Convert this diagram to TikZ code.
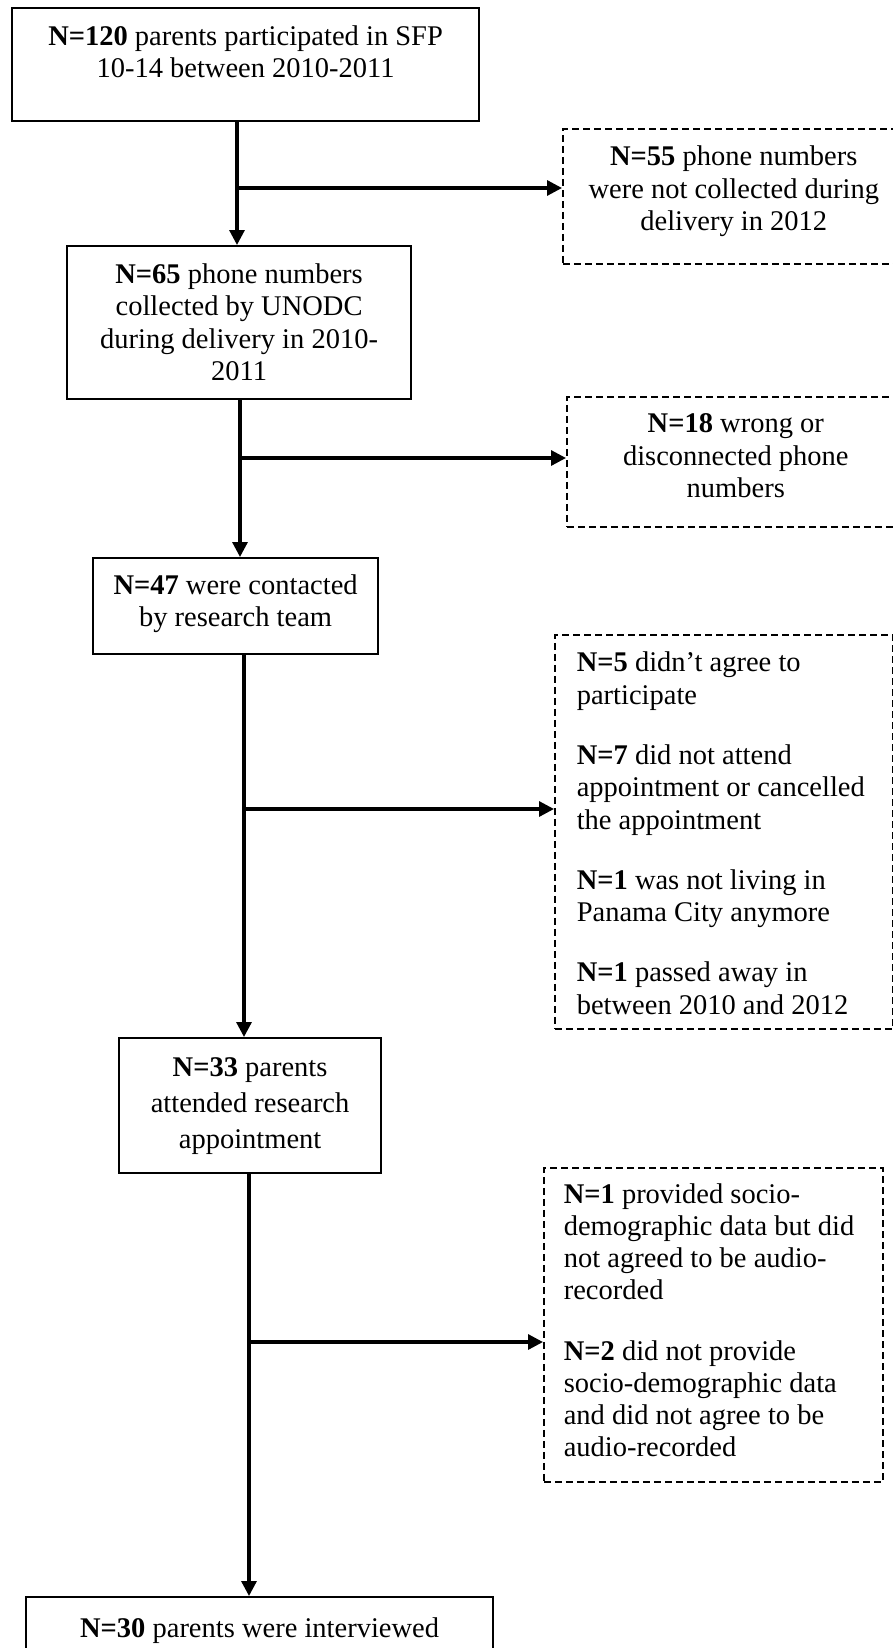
\documentclass[tikz,border=0pt]{standalone}
\usepackage{fontspec}
\setmainfont{Liberation Serif}
\usetikzlibrary{arrows.meta}
% centred text block: width, height, first-baseline offset, text
\newcommand\boxtxt[4]{\parbox[t][#2][t]{#1}{\centering\rule{0pt}{#3}#4}}
% left-aligned text block: width, height, first-baseline offset, left pad, text
\newcommand\listtxt[5]{\parbox[t][#2][t]{#1}{\raggedright\leftskip=#4\relax\rule{0pt}{#3}#5}}
\begin{document}
\begin{tikzpicture}[x=1pt,y=-1pt,
  txtfont/.style={font=\fontsize{28.5}{32.5}\selectfont},
  solidbox/.style={draw, line width=2.2pt, inner sep=0pt, anchor=north west, txtfont},
  dashbox/.style={draw, line width=1.6pt, dash pattern=on 7pt off 4pt, inner sep=0pt, anchor=north west, txtfont},
  conn/.style={line width=3.2pt},
  arr/.style={conn, -{Triangle[length=15pt,width=15pt]}}]
\useasboundingbox (0,0) rectangle (893,1648);
\fill[white] (0,0) rectangle (893,1648);
\clip (0,0) rectangle (893,1648);

% main boxes
\node[solidbox] (b1) at (11,7) {\boxtxt{467pt}{113pt}{37pt}{\textbf{N=120} parents participated in SFP\\10-14 between 2010-2011}};
\node[solidbox] (b2) at (66,245) {\boxtxt{344pt}{153pt}{37pt}{\textbf{N=65} phone numbers\\collected by UNODC\\during delivery in 2010-\\2011}};
\node[solidbox] (b3) at (92,557) {\boxtxt{285pt}{96pt}{36pt}{\textbf{N=47} were contacted\\by research team}};
\node[solidbox] (b4) at (118,1037) {\boxtxt{262pt}{135pt}{38pt}{\fontsize{28.5}{36}\selectfont\textbf{N=33} parents\\attended research\\appointment}};
\node[solidbox] (b5) at (25,1596) {\boxtxt{467pt}{90pt}{40pt}{\textbf{N=30} parents were interviewed}};

% exclusion boxes
\node[dashbox] (xA) at (562,128) {\boxtxt{342pt}{135pt}{37pt}{\textbf{N=55} phone numbers\\were not collected during\\delivery in 2012}};
\node[dashbox] (xB) at (566,396) {\boxtxt{338pt}{130pt}{36pt}{\textbf{N=18} wrong or\\disconnected phone\\numbers}};
\node[dashbox] (xC) at (554,634) {\listtxt{338pt}{394pt}{37pt}{22pt}{\textbf{N=5} didn’t agree to\\participate\\[27.5pt]\textbf{N=7} did not attend\\appointment or cancelled\\the appointment\\[27.5pt]\textbf{N=1} was not living in\\Panama City anymore\\[27.5pt]\textbf{N=1} passed away in\\between 2010 and 2012}};
\node[dashbox] (xD) at (543,1167) {\listtxt{339pt}{314pt}{36pt}{20pt}{\fontsize{28.5}{32}\selectfont\textbf{N=1} provided socio-\\demographic data but did\\not agreed to be audio-\\recorded\\[29pt]\textbf{N=2} did not provide\\socio-demographic data\\and did not agree to be\\audio-recorded}};

% junction points on the trunk
\coordinate (t1) at (237,188);
\coordinate (t2) at (240,458);
\coordinate (t3) at (244,809);
\coordinate (t4) at (249,1342);

% trunk arrows
\draw[arr] (t1 |- b1.south) -- (t1 |- b2.north);
\draw[arr] (t2 |- b2.south) -- (t2 |- b3.north);
\draw[arr] (t3 |- b3.south) -- (t3 |- b4.north);
\draw[arr] (t4 |- b4.south) -- (t4 |- b5.north);

% branch arrows
\draw[arr] (t1) -- (t1 -| xA.west);
\draw[arr] (t2) -- (t2 -| xB.west);
\draw[arr] (t3) -- (t3 -| xC.west);
\draw[arr] (t4) -- (t4 -| xD.west);
\end{tikzpicture}
\end{document}
